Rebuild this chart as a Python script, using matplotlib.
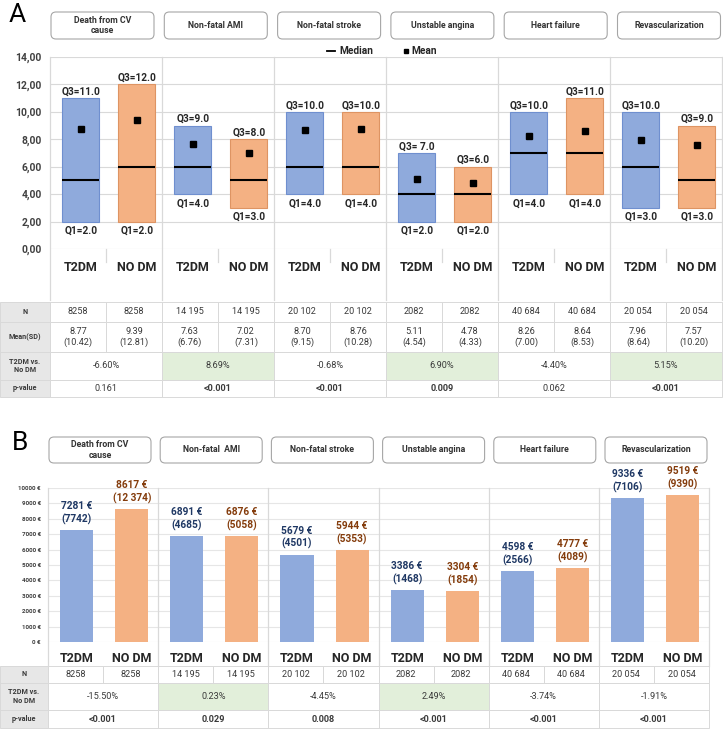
import numpy as np
import matplotlib
matplotlib.use("Agg")
import matplotlib.pyplot as plt
from matplotlib.patches import Rectangle, FancyBboxPatch

plt.rcParams['font.family'] = ['Roboto', 'DejaVu Sans']

# ---- data ----
outcomes_a = ["Death from CV\ncause", "Non-fatal AMI", "Non-fatal stroke",
              "Unstable angina", "Heart failure", "Revascularization"]
outcomes_b = ["Death from CV\ncause", "Non-fatal  AMI", "Non-fatal stroke",
              "Unstable angina", "Heart failure", "Revascularization"]
groups = ["T2DM", "NO DM"]

# panel A: length of stay, one value per bar (T2DM, NO DM for each outcome)
q1_a = [2, 2, 4, 3, 4, 4, 2, 2, 4, 4, 3, 3]
q3_a = [11, 12, 9, 8, 10, 10, 7, 6, 10, 11, 10, 9]
q3_text = ["Q3=11.0", "Q3=12.0", "Q3=9.0", "Q3=8.0", "Q3=10.0", "Q3=10.0",
           "Q3= 7.0", "Q3=6.0", "Q3=10.0", "Q3=11.0", "Q3=10.0", "Q3=9.0"]
median_a = [5, 6, 6, 5, 6, 6, 4, 4, 7, 7, 6, 5]
mean_a = [8.77, 9.39, 7.63, 7.02, 8.70, 8.76, 5.11, 4.78, 8.26, 8.64, 7.96, 7.57]
sd_a = [10.42, 12.81, 6.76, 7.31, 9.15, 10.28, 4.54, 4.33, 7.00, 8.53, 8.64, 10.20]
n_pat = [8258, 14195, 20102, 2082, 40684, 20054]
diff_a = ["-6.60%", "8.69%", "-0.68%", "6.90%", "-4.40%", "5.15%"]
pval_a = ["0.161", "<0.001", "<0.001", "0.009", "0.062", "<0.001"]

# panel B: costs per patient
cost_b = [7281, 8617, 6891, 6876, 5679, 5944, 3386, 3304, 4598, 4777, 9336, 9519]
cost_sd_b = [7742, 12374, 4685, 5058, 4501, 5353, 1468, 1854, 2566, 4089, 7106, 9390]
diff_b = ["-15.50%", "0.23%", "-4.45%", "2.49%", "-3.74%", "-1.91%"]
pval_b = ["<0.001", "0.029", "0.008", "<0.001", "<0.001", "<0.001"]

BLUE, ORANGE = "#8faadc", "#f4b183"
GRID = "#d9d9d9"
TXT = "#3a3a3a"

W, H = 723, 731
fig = plt.figure(figsize=(W / 100, H / 100), dpi=100)
canvas = fig.add_axes([0, 0, 1, 1])
canvas.set_xlim(0, W)
canvas.set_ylim(H, 0)
canvas.axis('off')


def px_axes(l, t, r, b):
    ax = fig.add_axes([l / W, 1 - b / H, (r - l) / W, (b - t) / H])
    ax.set_facecolor('none')
    for s in ax.spines.values():
        s.set_visible(False)
    return ax


def fmt_n(v):
    return f"{v:,}".replace(",", " ") if v >= 10000 else str(v)


def is_sig(p):
    return p.startswith("<") or float(p) < 0.05


def cell(x, y, w, h, txt, fill="white", bold=False, size=6.6, color=TXT):
    canvas.add_patch(Rectangle((x, y), w, h, facecolor=fill, edgecolor=GRID, lw=0.7))
    canvas.text(x + w / 2, y + h / 2, txt, ha='center', va='center', fontsize=size,
                fontweight='bold' if bold else 'normal', color=color, linespacing=1.1)


def header_boxes(x0, step, w, y0, h, names):
    for i, name in enumerate(names):
        bx = x0 + step * i
        canvas.add_patch(FancyBboxPatch((bx, y0), w, h, boxstyle="round,pad=0,rounding_size=5",
                                        facecolor="white", edgecolor="#a6a6a6", lw=0.8))
        canvas.text(bx + w / 2, y0 + h / 2, name, ha='center', va='center', fontsize=6.3,
                    fontweight='bold', color="#333333", linespacing=1.15)


def table(left, label_w, cell_w, rows):
    # rows: (label, top, height, texts, merged, fills, bolds)
    for label, top, h, texts, merged, fills, bolds in rows:
        cell(0, top, label_w, h, label, fill="#e7e7e7", bold=True, size=5.2)
        w = cell_w * (2 if merged else 1)
        for i, t in enumerate(texts):
            cell(left + w * i, top, w, h, t, fill=fills[i], bold=bolds[i])


x = np.arange(12)
colors = [BLUE, ORANGE] * 6
edges = ["#6f8fcf", "#de9463"] * 6

# ---------------- panel A ----------------
canvas.text(9, 15, "A", fontsize=19, va='center', ha='left', color="black")
header_boxes(51, 113.3, 103, 12, 27, outcomes_a)

axA = px_axes(50, 57, 722, 249)
axA.set_xlim(-0.55, 11.45)
axA.set_ylim(0, 14)
axA.bar(x, np.array(q3_a) - np.array(q1_a), bottom=q1_a, width=0.66,
        color=colors, edgecolor=edges, lw=0.8, zorder=3)
axA.hlines(median_a, x - 0.33, x + 0.33, color='black', lw=1.5, zorder=4)
axA.plot(x, mean_a, 's', color='black', ms=4.8, zorder=5)
for i in range(12):
    axA.text(x[i], q3_a[i] + 0.12, q3_text[i], ha='center', va='bottom',
             fontsize=7.3, fontweight='bold', color="#262626")
    axA.text(x[i], q1_a[i] - 0.3, f"Q1={q1_a[i]:.1f}", ha='center', va='top',
             fontsize=7.3, fontweight='bold', color="#262626")
axA.set_yticks(np.arange(0, 15, 2))
axA.set_yticklabels([f"{v:.2f}".replace(".", ",") for v in np.arange(0, 15, 2)],
                    fontsize=7.4, fontweight='bold', color="#404040")
axA.set_xticks(x)
axA.set_xticklabels(groups * 6, fontsize=9, fontweight='bold', color="#262626")
axA.tick_params(length=0)
axA.tick_params(axis='y', pad=6)
axA.tick_params(axis='x', pad=9)
axA.grid(axis='y', color=GRID, lw=0.8, zorder=0)
for g in range(7):
    axA.axvline(2 * g - 0.55, ymin=-(300 - 249) / 192, ymax=1, color=GRID, lw=0.9, clip_on=False)
for g in range(6):
    axA.axvline(2 * g + 0.45, ymin=-13 / 192, ymax=0, color=GRID, lw=0.9, clip_on=False)

# legend
canvas.plot([327, 335], [51, 51], color='black', lw=1.3)
canvas.text(339, 51, "Median", fontsize=7.3, fontweight='bold', va='center', color="#262626")
canvas.plot([405.5], [51], 's', color='black', ms=2.5)
canvas.text(411, 51, "Mean", fontsize=7.3, fontweight='bold', va='center', color="#262626")

n_bar = [fmt_n(n_pat[i // 2]) for i in range(12)]
mean_sd = [f"{m:.2f}\n({s:.2f})" for m, s in zip(mean_a, sd_a)]
table(50, 50, 56, [
    ("N", 302, 20, n_bar, False, ["white"] * 12, [False] * 12),
    ("Mean(SD)", 322, 30, mean_sd, False, ["white"] * 12, [False] * 12),
    ("T2DM vs.\nNo DM", 352, 28, diff_a, True,
     ["#e2efda" if not d.startswith("-") else "white" for d in diff_a], [False] * 6),
    ("p-value", 380, 17, pval_a, True, ["white"] * 6, [is_sig(p) for p in pval_a]),
])

# ---------------- panel B ----------------
canvas.text(12, 443, "B", fontsize=19, va='center', ha='left', color="black")
header_boxes(49, 111.2, 102, 437, 26, outcomes_b)

axB = px_axes(48, 488, 709, 642)
axB.set_xlim(-0.52, 11.48)
axB.set_ylim(0, 10000)
axB.bar(x, cost_b, width=0.6, color=colors, zorder=3)
label_cols = ["#1f3864", "#843c0c"] * 6
for i in range(12):
    axB.text(x[i], cost_b[i] + 330, f"{cost_b[i]} €\n({fmt_n(cost_sd_b[i])})",
             ha='center', va='bottom', fontsize=7.3, fontweight='bold',
             color=label_cols[i], linespacing=1.3)
axB.set_yticks(np.arange(0, 10001, 1000))
axB.set_yticklabels([f"{v} €" for v in range(0, 10001, 1000)],
                    fontsize=4.5, fontweight='bold', color="#404040")
axB.set_xticks(x)
axB.set_xticklabels(groups * 6, fontsize=9, fontweight='bold', color="#262626")
axB.tick_params(length=0)
axB.tick_params(axis='y', pad=5)
axB.tick_params(axis='x', pad=7)
axB.grid(axis='y', color="#e6e6e6", lw=0.8, zorder=0)
for g in range(7):
    axB.axvline(2 * g - 0.52, ymin=-(666 - 642) / 154, ymax=1, color=GRID, lw=0.9, clip_on=False)

table(48, 48, 661 / 12, [
    ("N", 666, 17, n_bar, False, ["white"] * 12, [False] * 12),
    ("T2DM vs.\nNo DM", 683, 27, diff_b, True,
     ["#e2efda" if not d.startswith("-") else "white" for d in diff_b], [False] * 6),
    ("p-value", 710, 18, pval_b, True, ["white"] * 6, [is_sig(p) for p in pval_b]),
])

fig.savefig("out.png", dpi=100)
